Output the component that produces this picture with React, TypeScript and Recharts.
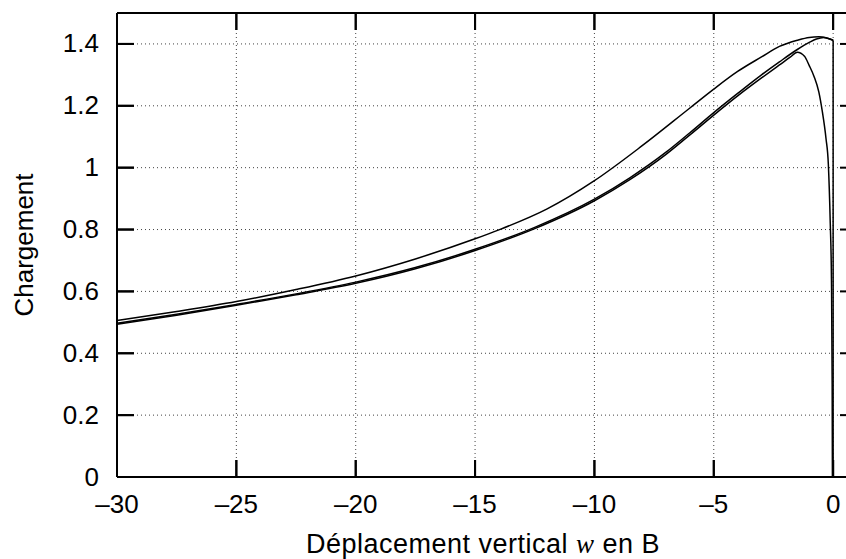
import { LineChart, Line, XAxis, YAxis, CartesianGrid, Label, ReferenceLine } from "recharts";

// displacement w (x) and load (y) for each run
const xA = [-30, -27.5, -25, -22.5, -20, -17.5, -15, -14, -12, -10, -8, -6, -5, -4, -3, -2.25, -1.5, -1, -0.6, -0.3, 0];
const yA = [0.506, 0.535, 0.567, 0.606, 0.65, 0.705, 0.77, 0.799, 0.866, 0.958, 1.071, 1.193, 1.254, 1.311, 1.358, 1.392, 1.412, 1.421, 1.423, 1.42, 1.412];

const xB = [-30, -27.5, -25, -22.5, -20, -17.5, -15, -12.5, -10, -8.5, -7, -6, -5, -4, -3, -2.25, -1.5, -1, -0.7, -0.4, 0];
const yB = [0.497, 0.526, 0.558, 0.592, 0.63, 0.677, 0.736, 0.807, 0.898, 0.968, 1.05, 1.113, 1.178, 1.24, 1.3, 1.342, 1.382, 1.405, 1.416, 1.421, 1.412];

const xC = [-30, -27.5, -25, -22.5, -20, -17.5, -15, -12.5, -10, -8.5, -7, -6, -5, -4, -3, -2.25, -1.8, -1.5, -1.2, -1, -0.8, -0.6, -0.45, -0.3, -0.2, -0.12, -0.07, -0.04, -0.03];
const yC = [0.494, 0.523, 0.555, 0.589, 0.626, 0.673, 0.732, 0.803, 0.893, 0.962, 1.043, 1.106, 1.17, 1.232, 1.29, 1.332, 1.357, 1.373, 1.36, 1.33, 1.295, 1.245, 1.18, 1.095, 1.01, 0.82, 0.64, 0.3, 0];

// final unloading drop at w = 0
const xDrop = [0, 0];
const yDrop = [1.412, 0];

const X_MIN = -30;
const X_MAX = 1;
const Y_MAX = 1.5;
const xTicks = [-30, -25, -20, -15, -10, -5, 0];
const yTicks = [0, 0.2, 0.4, 0.6, 0.8, 1, 1.2, 1.4];

const toPts = (xs: number[], ys: number[]) => xs.map((x, i) => ({ x, y: ys[i] }));

const FONT = "'Liberation Sans', Arial, Helvetica, sans-serif";
const fmtX = (v: number) => (v < 0 ? "\u2013" + Math.abs(v) : String(v));
const TICK = -17; // negative size: gnuplot-style ticks pointing into the plot

// label + an explicit inward stub (tick y sits at the inner end of the tick)
const BottomTick = (props: any) => {
  const x = Number(props.x);
  const y = Number(props.y);
  return (
    <g>
      <path d={`M${x},${y}V${y + 17}`} stroke="#000" strokeWidth={2} fill="none" />
      <text x={x} y={y + 53} textAnchor="middle" fontFamily={FONT} fontSize={26} fill="#000">
        {fmtX(props.payload.value)}
      </text>
    </g>
  );
};

const LeftTick = (props: any) => {
  const x = Number(props.x);
  const y = Number(props.y);
  return (
    <g>
      <path d={`M${x},${y}H${x - 17}`} stroke="#000" strokeWidth={2} fill="none" />
      <text x={x - 35} y={y + 8.5} textAnchor="end" fontFamily={FONT} fontSize={26} fill="#000">
        {String(props.payload.value)}
      </text>
    </g>
  );
};

const TopTick = (props: any) => {
  const x = Number(props.x);
  const y = Number(props.y);
  return <path d={`M${x},${y}V${y - 17}`} stroke="#000" strokeWidth={2} fill="none" />;
};

const XTitle = (props: any) => {
  const vb = props.viewBox;
  return (
    <text
      x={vb.x + vb.width / 2 - 4}
      y={vb.y + 76}
      textAnchor="middle"
      fontFamily={FONT}
      fontSize={27}
      letterSpacing={0.5}
      fill="#000"
    >
      Déplacement vertical{" "}
      <tspan fontStyle="italic" fontFamily="'Liberation Serif', serif">w</tspan> en B
    </text>
  );
};

const YTitle = (props: any) => {
  const vb = props.viewBox;
  const cy = vb.y + vb.height / 2;
  return (
    <text
      x={33}
      y={cy}
      transform={`rotate(-90, 33, ${cy})`}
      textAnchor="middle"
      fontFamily={FONT}
      fontSize={26}
      fill="#000"
    >
      Chargement
    </text>
  );
};

const border = { stroke: "#000", strokeWidth: 2 };

export default function App() {
  return (
    <div style={{ position: "absolute", left: 0, top: 0, width: 846, height: 559, overflow: "hidden", background: "#fff" }}>
      <LineChart width={860} height={559} margin={{ top: 12, right: 2, left: 0, bottom: 0 }}>
        <CartesianGrid stroke="#444" strokeDasharray="1 3" strokeWidth={1} fill="none" />
        <XAxis
          dataKey="x"
          type="number"
          domain={[X_MIN, X_MAX]}
          ticks={xTicks}
          interval={0}
          height={82}
          tickSize={TICK}
          tickMargin={0}
          tickLine={border}
          axisLine={border}
          tick={(p: any) => <BottomTick {...p} />}
          label={<Label content={XTitle} />}
        />
        <XAxis
          xAxisId="top"
          dataKey="x"
          type="number"
          orientation="top"
          domain={[X_MIN, X_MAX]}
          ticks={xTicks}
          interval={0}
          height={1}
          tickSize={TICK}
          tickMargin={0}
          tickLine={border}
          axisLine={border}
          tick={(p: any) => <TopTick {...p} />}
        />
        <YAxis
          type="number"
          domain={[0, Y_MAX]}
          ticks={yTicks}
          interval={0}
          width={117}
          tickSize={TICK}
          tickMargin={0}
          tickLine={border}
          axisLine={border}
          tick={(p: any) => <LeftTick {...p} />}
          label={<Label content={YTitle} />}
        />
        <YAxis
          yAxisId="right"
          type="number"
          orientation="right"
          domain={[0, Y_MAX]}
          ticks={yTicks}
          interval={0}
          width={1}
          tickSize={TICK}
          tickMargin={0}
          tickLine={border}
          axisLine={border}
          tickFormatter={() => ""}
        />

        {/* top edge of the frame */}
        <ReferenceLine y={Y_MAX} stroke="#000" strokeWidth={2} />

        <Line data={toPts(xA, yA)} dataKey="y" type="monotone" stroke="#000" strokeWidth={1.5} dot={false} isAnimationActive={false} />
        <Line data={toPts(xB, yB)} dataKey="y" type="monotone" stroke="#000" strokeWidth={1.5} dot={false} isAnimationActive={false} />
        <Line data={toPts(xC, yC)} dataKey="y" type="monotone" stroke="#000" strokeWidth={1.5} dot={false} isAnimationActive={false} />
        <Line data={toPts(xDrop, yDrop)} dataKey="y" type="linear" stroke="#000" strokeWidth={1.5} dot={false} isAnimationActive={false} />
        {/* the drop again on the mirror axes so recharts lays them out; invisible */}
        <Line xAxisId="top" yAxisId="right" data={toPts(xDrop, yDrop)} dataKey="y" type="linear" stroke="none" dot={false} activeDot={false} legendType="none" isAnimationActive={false} />
      </LineChart>
    </div>
  );
}
